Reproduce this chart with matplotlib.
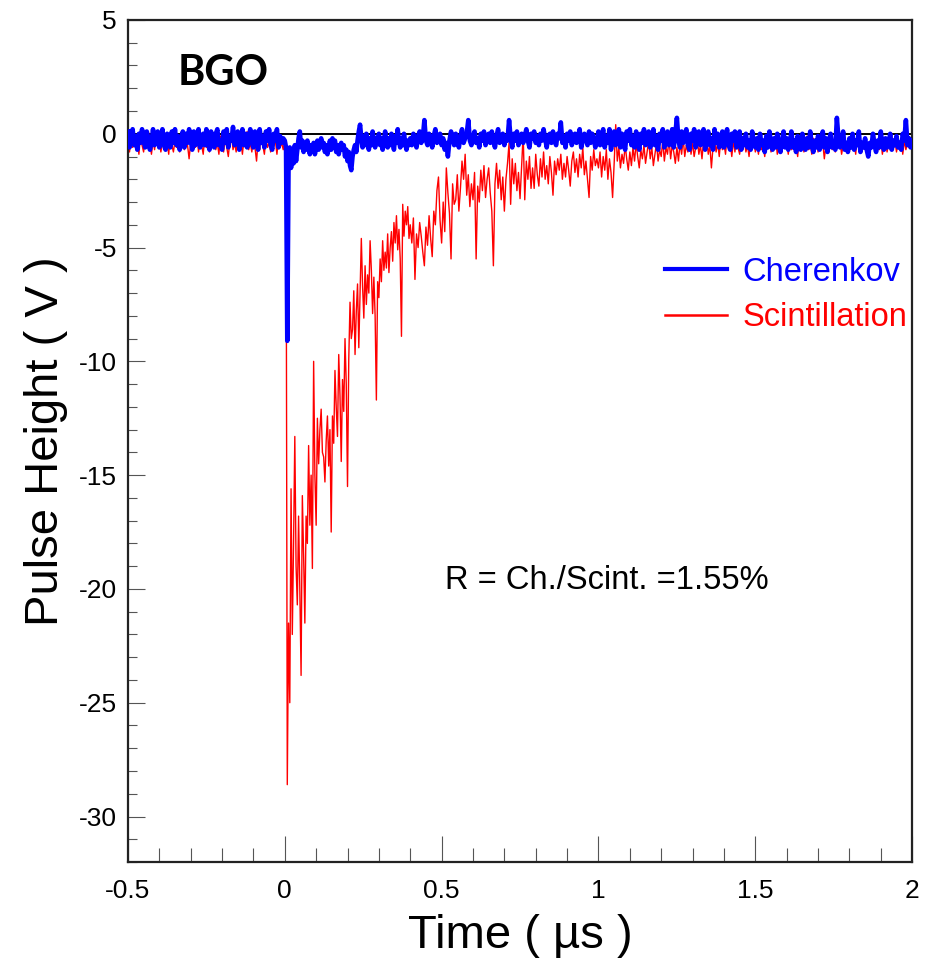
import numpy as np
import matplotlib
matplotlib.use("Agg")
import matplotlib.pyplot as plt
from matplotlib.ticker import MultipleLocator, FormatStrFormatter

plt.rcParams["font.family"] = ["Liberation Sans", "DejaVu Sans"]
plt.rcParams["axes.unicode_minus"] = False

# sampling grids (us): pre-trigger, pulse, early tail, late tail
t_pre = np.round(np.arange(-0.50, 0.0, 0.005), 4)
t_pulse = np.round(np.arange(0.0, 0.4, 0.004), 4)
t_tail1 = np.round(np.arange(0.40, 1.0, 0.005), 4)
t_tail2 = np.round(np.arange(1.00, 2.001, 0.005), 4)

# Scintillation (V)
scint_pre = [-0.4, -0.8, -0.2, -0.6, 0.0, -0.7, -0.3, -0.9, -0.1, -0.5,
             -0.8, -0.2, -0.6, 0.1, -0.4, -0.9, -0.3, -0.7, 0.0, -0.5,
             -0.2, -0.8, -0.4, -0.1, -0.7, -0.3, -0.9, 0.0, -0.5, -0.8,
             -0.3, -0.6, -0.1, -0.8, -0.4, 0.1, -0.7, -0.2, -0.5, -1.1,
             -0.4, -0.7, -0.2, -0.6, 0.0, -0.8, -0.3, -0.5, -0.9, -0.1,
             -0.6, -0.3, -0.8, 0.0, -0.5, -0.2, -0.7, -0.4, -0.9, -0.1,
             -0.5, -0.8, -0.2, -0.6, -1.0, -0.3, 0.0, -0.7, -0.4, -0.8,
             -0.1, -0.6, -0.3, -0.9, -0.2, -0.5, 0.1, -0.7, -0.4, -0.8,
             -0.2, -0.6, -1.2, -0.3, -0.7, 0.0, -0.5, -0.9, -0.2, -0.6,
             -0.4, -0.8, -0.1, -0.5, -0.3, -0.9, -0.2, -0.6, -0.4, -0.7]
scint_pulse = [-0.3, -0.5, -28.6, -21.5, -25.0, -15.6, -22.0, -18.0, -13.3, -19.0,
               -20.7, -16.8, -20.0, -23.8, -15.9, -18.5, -21.5, -16.8, -18.0, -13.7,
               -17.2, -15.0, -19.1, -10.0, -15.0, -17.2, -12.5, -14.5, -13.0, -12.1,
               -14.0, -14.2, -15.3, -13.5, -12.4, -14.6, -13.0, -17.5, -12.4, -13.6,
               -10.4, -12.0, -13.3, -9.7, -11.5, -14.4, -10.8, -12.2, -9.0, -11.0,
               -15.5, -9.9, -7.4, -9.0, -8.6, -6.9, -9.7, -7.8, -6.6, -9.4,
               -7.0, -4.6, -6.7, -8.1, -5.8, -7.5, -6.2, -7.0, -4.7, -6.0,
               -7.9, -6.3, -8.0, -11.7, -6.5, -7.2, -5.5, -6.5, -4.7, -6.0,
               -5.2, -5.9, -4.4, -6.1, -5.0, -4.3, -5.6, -3.9, -4.8, -3.6,
               -5.1, -4.2, -5.5, -8.9, -3.1, -4.5, -3.4, -4.0, -3.2, -4.6]
scint_tail1 = [-4.0, -4.8, -3.7, -6.4, -4.4, -5.0, -3.9, -4.5, -5.2, -5.8,
               -4.1, -4.9, -3.6, -4.6, -5.4, -3.4, -4.0, -2.5, -1.9, -3.8,
               -4.8, -3.0, -4.3, -1.5, -2.6, -3.5, -5.5, -2.2, -3.1, -2.9,
               -1.8, -3.4, -2.4, -1.2, -2.0, -0.9, -2.7, -1.8, -3.2, -2.2,
               -2.9, -1.7, -5.5, -2.3, -3.0, -1.6, -2.5, -1.4, -2.8, -2.0,
               -1.5, -2.6, -3.4, -5.8, -2.2, -1.3, -2.4, -1.6, -2.9, -1.9,
               -3.4, -2.0, -1.3, -0.4, -3.1, -1.1, -2.2, -1.3, -2.5, -1.7,
               -2.85, -1.4, 0.0, -2.9, -1.2, -2.0, -1.0, -2.4, -1.5, -2.4,
               -0.9, -1.8, -2.3, -1.1, -1.9, -0.8, -2.0, -1.4, -2.2, -1.0,
               -1.7, -2.7, -1.2, -1.8, -1.1, -1.6, -0.9, -2.0, -1.3, -1.9,
               -1.0, -1.6, -2.3, -1.2, -0.8, -1.7, -1.1, -1.9, -0.9, -1.5,
               -0.6, -1.8, -1.2, -2.0, -2.8, -1.0, -1.6, -0.7, -1.4, -1.1]
scint_tail2 = [-1.5, -0.8, -1.9, -1.0, -1.6, -0.7, -2.0, -1.1, -1.7, -2.8,
               -1.3, 0.4, -1.2, -0.6, -1.5, -0.9, -1.3, -0.5, -1.1, -1.6,
               -0.8, -1.4, -0.6, -1.2, -0.4, -1.0, -1.5, -0.7, -1.1, -0.5,
               -1.3, -0.8, -0.3, -1.1, -0.6, -1.4, -0.9, -0.4, -1.2, -0.7,
               -1.0, -0.3, -1.2, -0.6, -0.9, -0.2, -1.1, -0.5, -0.8, -1.3,
               -0.6, -1.2, -0.4, -0.9, -0.2, -1.0, -0.5, -0.8, -0.1, -0.9,
               -0.4, -1.0, -0.6, -0.2, -0.9, -0.5, -1.1, -0.3, -0.7, -0.2,
               -0.9, -0.5, -1.5, -0.6, -0.3, -0.8, -0.4, -1.0, -0.2, -0.7,
               -0.4, -0.9, -0.1, -0.7, -0.4, -1.0, -0.3, -0.8, -0.2, -0.6,
               -0.9, -0.3, -0.7, -0.2, -0.8, -0.5, -1.0, -0.3, -0.6, -0.1,
               -0.8, -0.4, -0.9, -0.2, -0.7, -0.5, -1.0, -0.3, -0.6, -0.1,
               -0.8, -0.4, -0.7, -0.2, -0.9, -0.5, -0.3, -0.8, -0.1, -0.6,
               -0.4, -0.9, -0.3, -0.7, -0.1, -0.8, -0.5, -1.0, -0.2, -0.6,
               -0.3, -0.8, -0.5, -0.1, -0.7, -0.4, -0.9, -0.2, -0.6, -0.3,
               -0.8, -0.2, -0.6, -0.4, -1.1, -0.5, -0.3, -0.8, -0.2, -0.7,
               -0.4, -0.8, -0.1, -0.6, -0.3, -0.9, -0.5, -0.2, -0.7, -0.4,
               -0.8, -0.2, -0.6, -0.4, -0.9, -0.1, -0.7, -0.3, -0.8, -0.5,
               -0.2, -0.7, -0.4, -0.9, -0.3, -0.6, -0.1, -0.8, -0.4, -0.7,
               -0.2, -0.9, -0.5, -0.3, -0.8, -0.4, -0.7, -0.1, -0.6, -0.3,
               -0.8, -0.4, -0.6, -0.2, -0.9, -0.3, -0.7, -0.4, -0.6, -0.2,
               -0.5]

# Cherenkov (V)
cher_pre = [0.1, -0.6, -0.2, 0.2, -0.5, -0.1, -0.7, 0.0, -0.4, 0.2,
            -0.3, -0.6, 0.1, -0.2, -0.7, -0.4, 0.2, -0.5, -0.1, 0.1,
            -0.6, -0.3, 0.2, -0.5, -0.7, 0.0, -0.2, -0.6, 0.1, -0.4,
            0.2, -0.5, -0.1, -0.7, -0.3, 0.1, -0.6, 0.0, -0.4, 0.2,
            -0.2, -0.7, 0.1, -0.5, -0.1, 0.2, -0.6, -0.3, 0.0, -0.5,
            0.2, -0.4, -0.7, 0.1, -0.2, -0.6, 0.0, 0.2, -0.5, -0.3,
            -0.7, 0.1, -0.4, 0.2, -0.6, -0.1, -0.3, 0.3, -0.5, -0.2,
            0.1, -0.7, -0.3, 0.2, -0.5, 0.0, -0.6, -0.2, 0.2, -0.4,
            -0.6, 0.1, -0.2, -0.7, 0.2, -0.4, -0.1, -0.6, 0.1, -0.3,
            0.2, -0.5, -0.7, 0.0, -0.3, 0.2, -0.6, -0.1, -0.4, -0.2]
cher_pulse = [-0.3, -0.6, -9.1, -1.4, -0.6, -1.5, -0.8, -1.3, -0.5, -1.2,
              -0.7, -0.2, 0.1, -0.6, -0.3, -0.8, -0.4, -0.7, -0.3, -0.6,
              -0.9, -0.5, -0.7, -0.4, -0.9, -0.6, -0.3, -0.7, -0.5, -0.2,
              -0.6, -0.4, -0.8, -0.5, -0.9, -0.6, -0.3, -0.7, -0.2, -0.5,
              -0.3, -0.8, -0.5, -0.9, -0.6, -0.4, -0.7, -0.5, -1.0, -0.7,
              -1.2, -0.8, -1.4, -1.6, -1.0, -0.7, -0.5, -0.8, -0.3, 0.1,
              0.4, -0.2, -0.6, -0.1, -0.5, 0.0, -0.4, -0.7, -0.2, -0.5,
              0.1, -0.3, -0.6, -0.2, -0.4, 0.0, -0.5, -0.2, -0.7, -0.3,
              0.1, -0.4, -0.6, -0.2, -0.5, 0.0, -0.3, -0.7, -0.1, -0.4,
              0.2, -0.3, -0.6, -0.2, -0.5, 0.0, -0.4, -0.7, -0.3, -0.5]
cher_tail1 = [-0.2, -0.5, 0.0, -0.3, -0.6, -0.1, 0.1, -0.4, -0.2, 0.6,
              -0.3, -0.5, 0.0, -0.2, -0.6, -0.1, 0.2, -0.4, -0.3, 0.0,
              -0.5, -0.2, -0.7, -0.4, -1.0, -0.3, 0.1, -0.2, -0.5, 0.0,
              -0.3, -0.6, -0.1, 0.2, -0.4, -0.2, 0.0, 0.6, -0.3, -0.5,
              -0.1, 0.1, -0.4, -0.2, -0.6, 0.0, -0.3, 0.1, -0.5, -0.2,
              0.0, -0.4, 0.1, -0.3, -0.6, -0.1, 0.2, -0.4, -0.2, 0.0,
              -0.5, -0.1, -0.3, 0.6, -0.2, -0.6, 0.0, -0.3, 0.1, -0.5,
              -0.2, 0.0, -0.4, -0.1, 0.2, -0.3, -0.6, 0.0, -0.2, 0.1,
              -0.4, -0.1, -0.5, 0.0, -0.3, 0.2, -0.2, -0.6, -0.1, 0.0,
              -0.4, 0.1, -0.3, -0.5, 0.0, -0.2, 0.5, -0.4, -0.1, -0.6,
              0.0, -0.3, 0.1, -0.5, -0.2, 0.0, -0.4, -0.1, 0.2, -0.6,
              -0.3, 0.0, -0.2, -0.5, 0.1, -0.4, 0.0, -0.2, -0.6, -0.3]
cher_tail2 = [0.1, -0.5, -0.2, 0.2, -0.6, -0.1, -0.4, 0.2, -0.7, -0.2,
              0.1, -0.5, -0.3, 0.2, -0.6, 0.0, -0.4, -0.7, 0.1, -0.3,
              0.2, -0.5, -0.1, -0.6, 0.1, -0.3, -0.7, 0.0, -0.4, 0.2,
              -0.5, -0.2, 0.1, -0.6, -0.3, 0.2, -0.5, -0.1, -0.7, 0.0,
              -0.3, 0.2, -0.6, -0.2, 0.1, -0.5, -0.4, 0.2, -0.6, 0.0,
              0.7, -0.3, -0.6, 0.1, -0.4, -0.1, 0.2, -0.5, -0.7, 0.0,
              -0.3, 0.2, -0.6, -0.2, 0.1, -0.5, -0.3, 0.2, -0.7, -0.1,
              0.1, -0.5, -0.2, -0.7, 0.2, -0.4, 0.0, -0.6, -0.3, 0.1,
              -0.6, -0.2, 0.2, -0.5, -0.7, 0.0, -0.3, 0.1, -0.6, -0.4,
              0.1, -0.7, -0.2, -0.5, 0.0, -0.6, -0.3, -0.7, 0.1, -0.4,
              -0.6, -0.2, -0.7, 0.0, -0.5, -0.3, -0.8, -0.1, -0.6, 0.1,
              -0.4, -0.7, -0.2, -0.6, 0.0, -0.5, -0.8, -0.3, 0.1, -0.6,
              -0.2, -0.7, -0.4, 0.1, -0.6, -0.3, -0.8, -0.1, -0.5, -0.7,
              0.0, -0.4, -0.7, -0.2, -0.6, 0.1, -0.5, -0.8, -0.3, -0.6,
              -0.1, -0.7, -0.4, 0.1, -0.6, -0.2, -0.8, -0.3, 0.0, -0.6,
              -0.4, -0.7, 0.7, -0.2, -0.6, -0.3, 0.1, -0.7, -0.4, -0.8,
              -0.2, -0.6, 0.0, -0.7, -0.3, -0.5, 0.1, -0.8, -0.4, -0.6,
              -0.2, -0.7, -1.0, -0.4, -0.6, 0.0, -0.5, -0.8, -0.3, -0.6,
              0.1, -0.5, -0.7, -0.2, -0.6, -0.4, 0.0, -0.7, -0.3, -0.5,
              -0.1, -0.6, -0.4, -0.7, 0.0, -0.3, 0.6, -0.5, -0.2, -0.6,
              -0.3]

time = np.concatenate([t_pre, t_pulse, t_tail1, t_tail2])
scint = np.concatenate([scint_pre, scint_pulse, scint_tail1, scint_tail2])
cher = np.concatenate([cher_pre, cher_pulse, cher_tail1, cher_tail2])

fig = plt.figure(figsize=(9.27, 9.65), dpi=100)
ax = fig.add_axes([0.138, 0.1067, 0.846, 0.8726])

ax.axhline(0, color="black", lw=1.4, zorder=1)
ax.plot(time, scint, color="#ff0000", lw=1.0, zorder=2, label="Scintillation")
ax.plot(time, cher, color="#0000ff", lw=3.3, zorder=3, label="Cherenkov")

ax.set_xlim(-0.5, 2.0)
ax.set_ylim(-32, 5)

ax.xaxis.set_major_locator(MultipleLocator(0.5))
ax.xaxis.set_minor_locator(MultipleLocator(0.1))
ax.yaxis.set_major_locator(MultipleLocator(5))
ax.yaxis.set_minor_locator(MultipleLocator(1))
ax.xaxis.set_major_formatter(FormatStrFormatter("%g"))
ax.yaxis.set_major_formatter(FormatStrFormatter("%g"))
ax.tick_params(axis="both", which="both", direction="in", top=False, right=False,
               color="#555555", labelsize=19, width=0.8)
ax.tick_params(axis="x", which="major", length=19, pad=12)
ax.tick_params(axis="x", which="minor", length=10)
ax.tick_params(axis="y", which="major", length=12, pad=8)
ax.tick_params(axis="y", which="minor", length=6.5)
for spine in ax.spines.values():
    spine.set_linewidth(1.6)
    spine.set_color("#222222")

ax.set_xlabel("Time ( µs )", fontsize=34, labelpad=8)
ax.set_ylabel("Pulse Height ( V )", fontsize=34, labelpad=8)

ax.text(0.063, 0.937, "BGO", transform=ax.transAxes, fontsize=30,
        fontweight="bold", family=["Lato", "DejaVu Sans"], va="center")
ax.text(0.404, 0.334, "R = Ch./Scint. =1.55%", transform=ax.transAxes,
        fontsize=23.5, va="center")

handles, labels = ax.get_legend_handles_labels()
leg = ax.legend(handles[::-1], labels[::-1], loc="upper left", bbox_to_anchor=(0.685, 0.719),
                frameon=False, fontsize=23.5, labelcolor="linecolor", handlelength=1.9,
                handletextpad=0.48, labelspacing=0.45, borderpad=0, borderaxespad=0)
leg.get_lines()[0].set_linewidth(3.0)
leg.get_lines()[1].set_linewidth(1.8)

fig.savefig("out.png", dpi=100)
